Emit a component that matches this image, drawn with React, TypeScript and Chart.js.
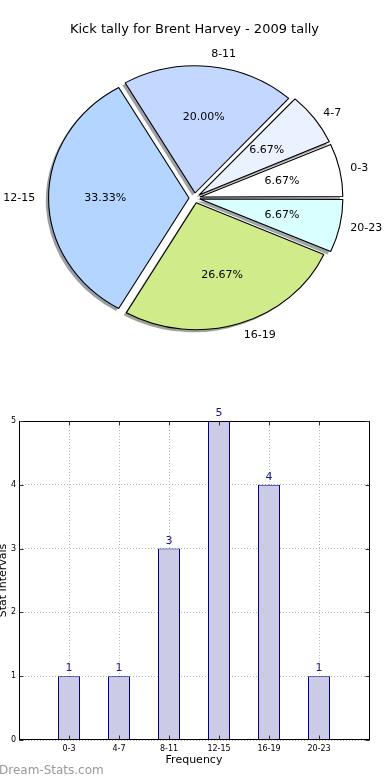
import { useEffect, useRef } from 'react';
import { Chart, registerables } from 'chart.js';

Chart.register(...registerables);
Chart.defaults.font.family = '"DejaVu Sans", sans-serif';
Chart.defaults.color = '#000';

// ---- data ----
const TITLE = 'Kick tally for Brent Harvey - 2009 tally';
const categories = ['0-3', '4-7', '8-11', '12-15', '16-19', '20-23'];
const tally = [1, 1, 3, 5, 4, 1];
const pieColors = ['#ffffff', '#ebf2ff', '#c4d8ff', '#b3d5ff', '#d0eb8a', '#d9ffff'];
const yTicks = [0, 1, 2, 3, 4, 5];
const xTitle = 'Frequency';
const yTitle = 'Stat Intervals';
const watermark = 'Dream-Stats.com';

// ---- styling ----
const FONT = '"DejaVu Sans", sans-serif';
const PIE_RADIUS = 127;
const PIE_STRETCH = 1.1; // the pie is drawn slightly wider than tall
const EXPLODE = 20; // chart.js offset (drawn as offset / 4 px)
const BAR_FILL = '#cbcbe5';
const BAR_EDGE = '#00008b';
const BAR_TEXT = '#1a1a8c';

const total = tally.reduce((a, b) => a + b, 0);
// chart.js draws clockwise, the reference runs counter-clockwise from 3 o'clock
const pieLabels = [...categories].reverse();
const pieValues = [...tally].reverse();
const pieFill = [...pieColors].reverse();

function shadowOf(hex: string) {
  const n = parseInt(hex.slice(1), 16);
  const r = (n >> 16) & 255, g = (n >> 8) & 255, b = n & 255;
  return `rgba(${Math.round(r * 0.3)},${Math.round(g * 0.3)},${Math.round(b * 0.3)},0.5)`;
}

const pieShape = {
  id: 'pieShape',
  beforeDatasetsDraw(chart: any) {
    const arcs = chart.getDatasetMeta(0).data;
    const ctx = chart.ctx;
    ctx.save();
    if (!arcs.length) return;
    const cx = arcs[0].x, cy = arcs[0].y;
    ctx.translate(cx, cy);
    ctx.scale(PIE_STRETCH, 1);
    ctx.translate(-cx, -cy);
    arcs.forEach((arc: any) => {
      const off = (arc.options.offset || 0) / 4;
      const half = (arc.startAngle + arc.endAngle) / 2;
      const circ = arc.endAngle - arc.startAngle;
      const r = arc.outerRadius + off * (1 - Math.sin(Math.min(Math.PI, circ)));
      const ox = cx + Math.cos(half) * off - 2.5;
      const oy = cy + Math.sin(half) * off + 2.5;
      ctx.beginPath();
      ctx.moveTo(ox, oy);
      ctx.arc(ox, oy, r, arc.startAngle, arc.endAngle);
      ctx.closePath();
      ctx.fillStyle = shadowOf(arc.options.backgroundColor);
      ctx.fill();
    });
  },
  afterDatasetsDraw(chart: any) {
    const ctx = chart.ctx;
    ctx.restore();
    const arcs = chart.getDatasetMeta(0).data;
    if (!arcs.length) return;
    const cx = arcs[0].x, cy = arcs[0].y;
    ctx.save();
    ctx.fillStyle = '#000';
    ctx.font = `11px ${FONT}`;
    ctx.textBaseline = 'middle';
    arcs.forEach((arc: any, i: number) => {
      const off = (arc.options.offset || 0) / 4;
      const half = (arc.startAngle + arc.endAngle) / 2;
      const c = Math.cos(half), s = Math.sin(half);
      const R = arc.outerRadius;
      const lr = off + 1.1 * R;
      ctx.textAlign = c > 0 ? 'left' : 'right';
      ctx.fillText(pieLabels[i], cx + lr * c * PIE_STRETCH, cy + lr * s);
      const pr = off + 0.6 * R;
      ctx.textAlign = 'center';
      const pct = ((pieValues[i] / total) * 100).toFixed(2) + '%';
      ctx.fillText(pct, cx + pr * c * PIE_STRETCH, cy + pr * s);
    });
    ctx.restore();
  },
};

const barFrame = {
  id: 'barFrame',
  afterDatasetsDraw(chart: any) {
    const { ctx, chartArea: a } = chart;
    const x = chart.scales.x, y = chart.scales.y;
    ctx.save();
    ctx.strokeStyle = '#000';
    ctx.lineWidth = 1;
    const L = Math.round(a.left) + 0.5, R = Math.round(a.right) + 0.5;
    const T = Math.round(a.top) + 0.5, B = Math.round(a.bottom) - 0.5;
    ctx.strokeRect(L, T, R - L, B - T);
    ctx.strokeStyle = '#333';
    ctx.beginPath();
    yTicks.forEach((v) => {
      const py = Math.round(y.getPixelForValue(v)) + 0.5;
      ctx.moveTo(L, py); ctx.lineTo(L + 4, py);
      ctx.moveTo(R, py); ctx.lineTo(R - 4, py);
    });
    categories.forEach((_, i) => {
      const px = Math.round(x.getPixelForValue(i)) + 0.5;
      ctx.moveTo(px, B); ctx.lineTo(px, B - 4);
      ctx.moveTo(px, T); ctx.lineTo(px, T + 4);
    });
    ctx.stroke();
    // value labels
    const bars = chart.getDatasetMeta(0).data;
    ctx.fillStyle = BAR_TEXT;
    ctx.font = `11px ${FONT}`;
    ctx.textAlign = 'center';
    ctx.textBaseline = 'alphabetic';
    bars.forEach((bar: any, i: number) => {
      ctx.fillText(String(tally[i]), bar.x, bar.y - 5);
    });
    ctx.restore();
  },
};

export default function App() {
  const pieRef = useRef<HTMLCanvasElement>(null);
  const barRef = useRef<HTMLCanvasElement>(null);

  useEffect(() => {
    const pie = new Chart(pieRef.current!, {
      type: 'pie',
      data: {
        labels: pieLabels,
        datasets: [
          {
            data: pieValues,
            backgroundColor: pieFill,
            borderColor: '#000',
            borderWidth: 1,
            offset: EXPLODE,
            clip: false as any,
          },
        ],
      },
      options: {
        responsive: false,
        animation: false,
        rotation: 90,
        radius: PIE_RADIUS,
        layout: { padding: { left: 1, right: 2, top: 0, bottom: 1.6 } },
        plugins: {
          legend: { display: false },
          tooltip: { enabled: false },
          title: {
            display: true,
            text: TITLE,
            color: '#000',
            font: { family: FONT, size: 13, weight: 'normal' },
            padding: { top: 22, bottom: 0 },
          },
        },
      } as any,
      plugins: [pieShape],
    });

    const bar = new Chart(barRef.current!, {
      type: 'bar',
      data: {
        datasets: [
          {
            data: categories.map((_, i) => ({ x: i, y: tally[i] })),
            backgroundColor: BAR_FILL,
            borderColor: BAR_EDGE,
            borderWidth: 1,
            barPercentage: 0.44,
            categoryPercentage: 1,
          },
        ],
      },
      options: {
        responsive: false,
        animation: false,
        layout: { padding: { left: 0, right: 21, top: 41, bottom: 0 } },
        plugins: { legend: { display: false }, tooltip: { enabled: false } },
        scales: {
          x: {
            type: 'linear',
            min: -1,
            max: 6,
            offset: false,
            grid: { color: '#b5b5b5', drawTicks: false, offset: false },
            border: { display: false, dash: [1, 2] },
            ticks: {
              stepSize: 1,
              autoSkip: false,
              maxRotation: 0,
              padding: 4,
              color: '#000',
              font: { family: FONT, size: 8 },
              callback: (v: any) => categories[v] ?? '',
            },
            title: {
              display: true,
              text: xTitle,
              color: '#000',
              font: { family: FONT, size: 11 },
              padding: { top: 0, bottom: 13.4 },
            },
            afterFit: (s: any) => { s.height = 40; },
          },
          y: {
            min: 0,
            max: 5,
            grid: { color: '#b5b5b5', drawTicks: false },
            border: { display: false, dash: [1, 2] },
            ticks: {
              stepSize: 1,
              padding: 3,
              color: '#000',
              font: { family: FONT, size: 8 },
              callback: (v: any) => (yTicks.includes(v) ? String(v) : ''),
            },
            title: {
              display: true,
              text: yTitle,
              color: '#000',
              font: { family: FONT, size: 11 },
              padding: 0,
            },
            afterFit: (s: any) => { s.width = 22; },
          },
        },
      } as any,
      plugins: [barFrame],
    });

    return () => {
      pie.destroy();
      bar.destroy();
    };
  }, []);

  return (
    <div
      style={{
        position: 'fixed',
        left: 0,
        top: 0,
        width: 390,
        height: 780,
        overflow: 'hidden',
        background: '#fff',
      }}
    >
      <canvas ref={pieRef} width={390} height={360} style={{ position: 'absolute', left: 0, top: 0 }} />
      <canvas ref={barRef} width={393} height={400} style={{ position: 'absolute', left: -3, top: 380 }} />
      <div
        style={{
          position: 'absolute',
          left: -1,
          top: 762,
          font: `12px ${FONT}`,
          lineHeight: '16px',
          color: '#999',
          whiteSpace: 'nowrap',
        }}
      >
        {watermark}
      </div>
    </div>
  );
}
